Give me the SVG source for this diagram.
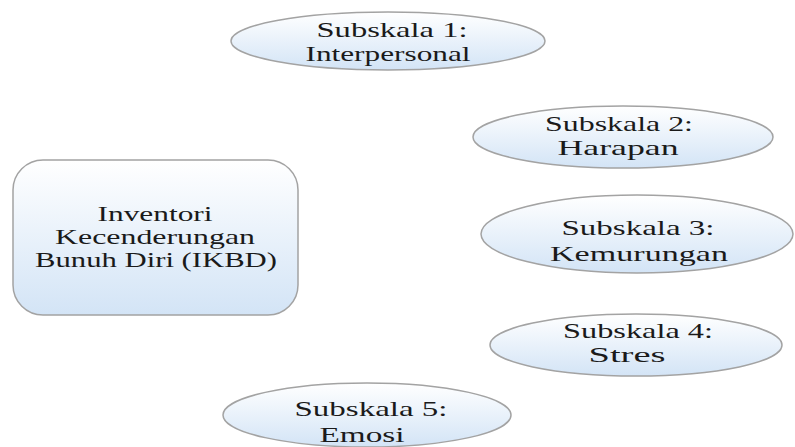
<svg xmlns="http://www.w3.org/2000/svg" width="795" height="447" viewBox="0 0 795 447">
<defs>
<linearGradient id="g" x1="0" y1="0" x2="0" y2="1">
<stop offset="0" stop-color="#ffffff"/>
<stop offset="1" stop-color="#d3e4f6"/>
</linearGradient>
<style>
.n{fill:url(#g);stroke:#a3a3a3;stroke-width:1.5}
.t{font-family:"Liberation Serif","Times New Roman",serif;font-size:21px;fill:#1a1a1a;text-anchor:middle}
</style>
</defs>
<rect width="795" height="447" fill="#ffffff"/>
<g id="connectors"></g>
<g id="ikbd">
<rect class="n" x="13" y="160" width="285" height="155" rx="30" ry="30"/>
<text class="t" x="155" y="221" textLength="115" lengthAdjust="spacingAndGlyphs">Inventori</text>
<text class="t" x="155" y="244" textLength="200" lengthAdjust="spacingAndGlyphs">Kecenderungan</text>
<text class="t" x="156" y="267" textLength="242" lengthAdjust="spacingAndGlyphs">Bunuh Diri (IKBD)</text>
</g>
<g id="s1">
<ellipse class="n" cx="388" cy="41" rx="157" ry="29"/>
<text class="t" x="392" y="37" textLength="151" lengthAdjust="spacingAndGlyphs">Subskala 1:</text>
<text class="t" x="388" y="61" textLength="165" lengthAdjust="spacingAndGlyphs">Interpersonal</text>
</g>
<g id="s2">
<ellipse class="n" cx="623" cy="137" rx="150" ry="31"/>
<text class="t" x="619" y="131" textLength="148" lengthAdjust="spacingAndGlyphs">Subskala 2:</text>
<text class="t" x="618" y="155" textLength="121" lengthAdjust="spacingAndGlyphs">Harapan</text>
</g>
<g id="s3">
<ellipse class="n" cx="637" cy="234" rx="156" ry="39"/>
<text class="t" x="638" y="235" textLength="153" lengthAdjust="spacingAndGlyphs">Subskala 3:</text>
<text class="t" x="639" y="261" textLength="178" lengthAdjust="spacingAndGlyphs">Kemurungan</text>
</g>
<g id="s4">
<ellipse class="n" cx="636" cy="345" rx="146" ry="31"/>
<text class="t" x="638" y="338" textLength="150" lengthAdjust="spacingAndGlyphs">Subskala 4:</text>
<text class="t" x="627" y="362" textLength="77" lengthAdjust="spacingAndGlyphs">Stres</text>
</g>
<g id="s5">
<ellipse class="n" cx="367" cy="415" rx="144" ry="32"/>
<text class="t" x="371" y="416" textLength="153" lengthAdjust="spacingAndGlyphs">Subskala 5:</text>
<text class="t" x="362" y="442" textLength="85" lengthAdjust="spacingAndGlyphs">Emosi</text>
</g>
</svg>
